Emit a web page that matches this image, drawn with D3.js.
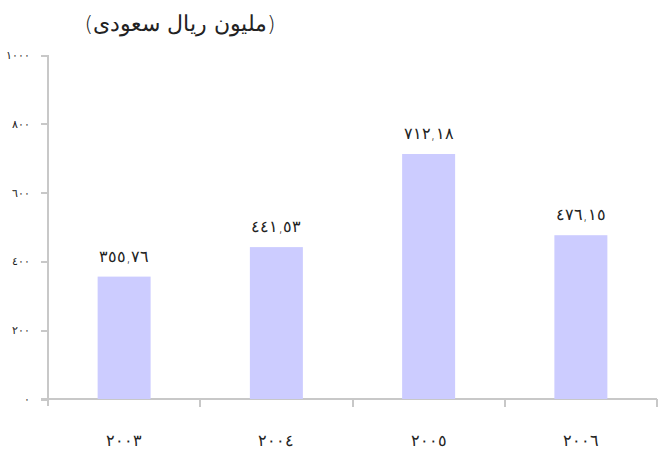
<!DOCTYPE html>
<html>
<head>
    <meta charset="UTF-8">
    <title>chart</title>
    <script type="text/javascript" src="https://d3js.org/d3.v7.min.js"></script>
    <style type="text/css">
        body { margin: 0; background: #fff; }
        svg text { font-family: "DejaVu Sans", sans-serif; fill: #222; }
        .axis path, .axis line { stroke: #c8c8c8; stroke-width: 2; shape-rendering: crispEdges; }
        .bar { fill: #ccccff; }
    </style>
</head>
<body>
<script type="text/javascript">
    // data
    var years = [2003, 2004, 2005, 2006];
    var values = [355.76, 441.53, 712.18, 476.15];
    var yTicks = [0, 200, 400, 600, 800, 1000];
    var title = "(مليون ريال سعودى)";

    var W = 658, H = 451;
    var mLeft = 48, mRight = 657, mTop = 55, mBottom = 399;

    // western digits -> arabic-indic
    function ar(s) {
        return String(s).replace(/\d/g, function(d) { return "٠١٢٣٤٥٦٧٨٩"[+d]; });
    }

    var svg = d3.select("body").append("svg")
        .attr("width", W).attr("height", H);

    var x = d3.scaleBand().domain(years).range([mLeft, mRight]).paddingInner(0).paddingOuter(0);
    var y = d3.scaleLinear().domain([0, 1000]).range([mBottom, mTop]);

    // y axis
    var yAxis = svg.append("g").attr("class", "axis")
        .attr("transform", "translate(" + mLeft + ",0)")
        .call(d3.axisLeft(y).tickValues(yTicks).tickSize(7).tickPadding(11).tickSizeOuter(0)
            .tickFormat(function(d) { return ar(d); }));
    yAxis.select(".domain").attr("d", "M0," + mTop + "V" + (mBottom + 7));
    yAxis.selectAll("text").style("font-size", "11px").style("font-weight", 200);

    // x axis line + ticks at category edges
    var xg = svg.append("g").attr("class", "axis");
    xg.append("line").attr("x1", mLeft - 7).attr("x2", mRight).attr("y1", mBottom).attr("y2", mBottom);
    var edges = years.map(function(d) { return x(d) + x.bandwidth(); });
    xg.selectAll("line.tk").data(edges).enter().append("line").attr("class", "tk")
        .attr("x1", function(d) { return d; }).attr("x2", function(d) { return d; })
        .attr("y1", mBottom).attr("y2", mBottom + 8);

    svg.selectAll("text.cat").data(years).enter().append("text").attr("class", "cat")
        .attr("x", function(d) { return x(d) + x.bandwidth() / 2; })
        .attr("y", 446)
        .attr("text-anchor", "middle")
        .style("font-size", "16px").style("font-weight", 200)
        .text(function(d) { return ar(d); });

    // bars
    var bw = 53;
    svg.selectAll("rect.bar").data(values).enter().append("rect").attr("class", "bar")
        .attr("x", function(d, i) { return x(years[i]) + x.bandwidth() / 2 - bw / 2; })
        .attr("y", function(d) { return y(d); })
        .attr("width", bw)
        .attr("height", function(d) { return mBottom - y(d); });

    svg.selectAll("text.val").data(values).enter().append("text").attr("class", "val")
        .attr("x", function(d, i) { return x(years[i]) + x.bandwidth() / 2; })
        .attr("y", function(d) { return y(d) - 15; })
        .attr("text-anchor", "middle")
        .style("font-size", "16px").style("font-weight", 200)
        .text(function(d) { return ar(d3.format(".2f")(d).replace(".", ",")); });

    svg.append("text")
        .attr("x", 180).attr("y", 31)
        .attr("text-anchor", "middle")
        .style("font-size", "22px").style("font-weight", 200)
        .text(title);
</script>
</body>
</html>
